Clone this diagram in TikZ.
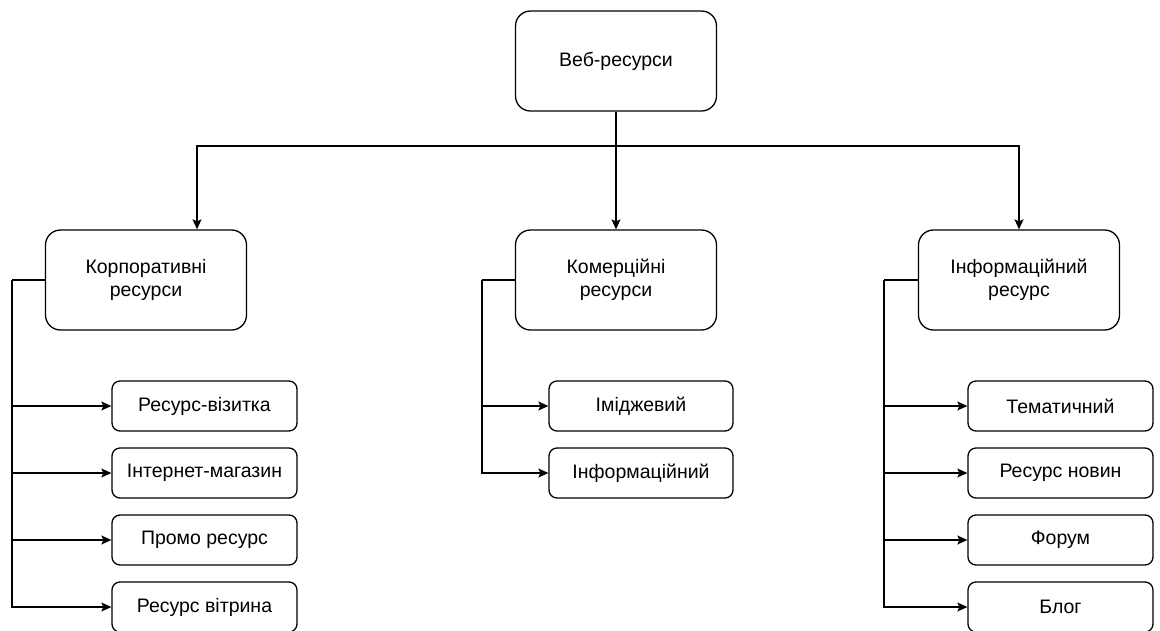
\documentclass[tikz,border=0pt]{standalone}
\usepackage{fontspec}
\setmainfont{Liberation Sans}
\usetikzlibrary{arrows.meta}
\begin{document}
\begin{tikzpicture}[x=1pt,y=-1pt,
  big/.style={draw, line width=1.3pt, rounded corners=15pt, minimum width=201pt, minimum height=100pt, inner sep=0pt, align=center, font=\fontsize{19.5}{23}\selectfont},
  small/.style={draw, line width=1.3pt, rounded corners=8pt, minimum width=185pt, minimum height=50pt, inner sep=0pt, align=center, font=\fontsize{19.5}{23}\selectfont},
  conn/.style={line width=1.3pt},
  arr/.style={conn, -{Stealth[length=10pt,width=9pt,inset=2pt]}}]
\useasboundingbox (0,0) rectangle (1160,630);
\begin{scope}
\clip (0,0) rectangle (1160,630);
\node[big] (top) at (616,61) {Веб-ресурси};
\node[big] (L) at (146,280) {Корпоративні\\ресурси};
\node[big] (M) at (616,280) {Комерційні\\ресурси};
\node[big] (R) at (1019,280) {Інформаційний\\ресурс};

\node[small] (l1) at (204.5,406) {Ресурс-візитка};
\node[small] (l2) at (204.5,473) {Інтернет-магазин};
\node[small] (l3) at (204.5,540) {Промо ресурс};
\node[small] (l4) at (204.5,607) {Ресурс вітрина};

\node[small, minimum width=184pt] (m1) at (641,406) {Іміджевий};
\node[small, minimum width=184pt] (m2) at (641,473) {Інформаційний};

\node[small] (r1) at (1060.5,406) {Тематичний};
\node[small] (r2) at (1060.5,473) {Ресурс новин};
\node[small] (r3) at (1060.5,540) {Форум};
\node[small] (r4) at (1060.5,607) {Блог};

\coordinate (bus) at (616,146);
\draw[arr] (top.south) -- (bus) -| ([xshift=51pt]L.north);
\draw[arr] (bus) -- (M.north);
\draw[arr] (bus) -| (R.north);

\coordinate (lb) at (12,280);
\draw[conn] (L.west) -- (lb);
\foreach \c in {l1,l2,l3,l4} \draw[arr] (lb) |- (\c.west);

\coordinate (mb) at (482,280);
\draw[conn] (M.west) -- (mb);
\foreach \c in {m1,m2} \draw[arr] (mb) |- (\c.west);

\coordinate (rb) at (884,280);
\draw[conn] (R.west) -- (rb);
\foreach \c in {r1,r2,r3,r4} \draw[arr] (rb) |- (\c.west);
\end{scope}
\end{tikzpicture}
\end{document}
